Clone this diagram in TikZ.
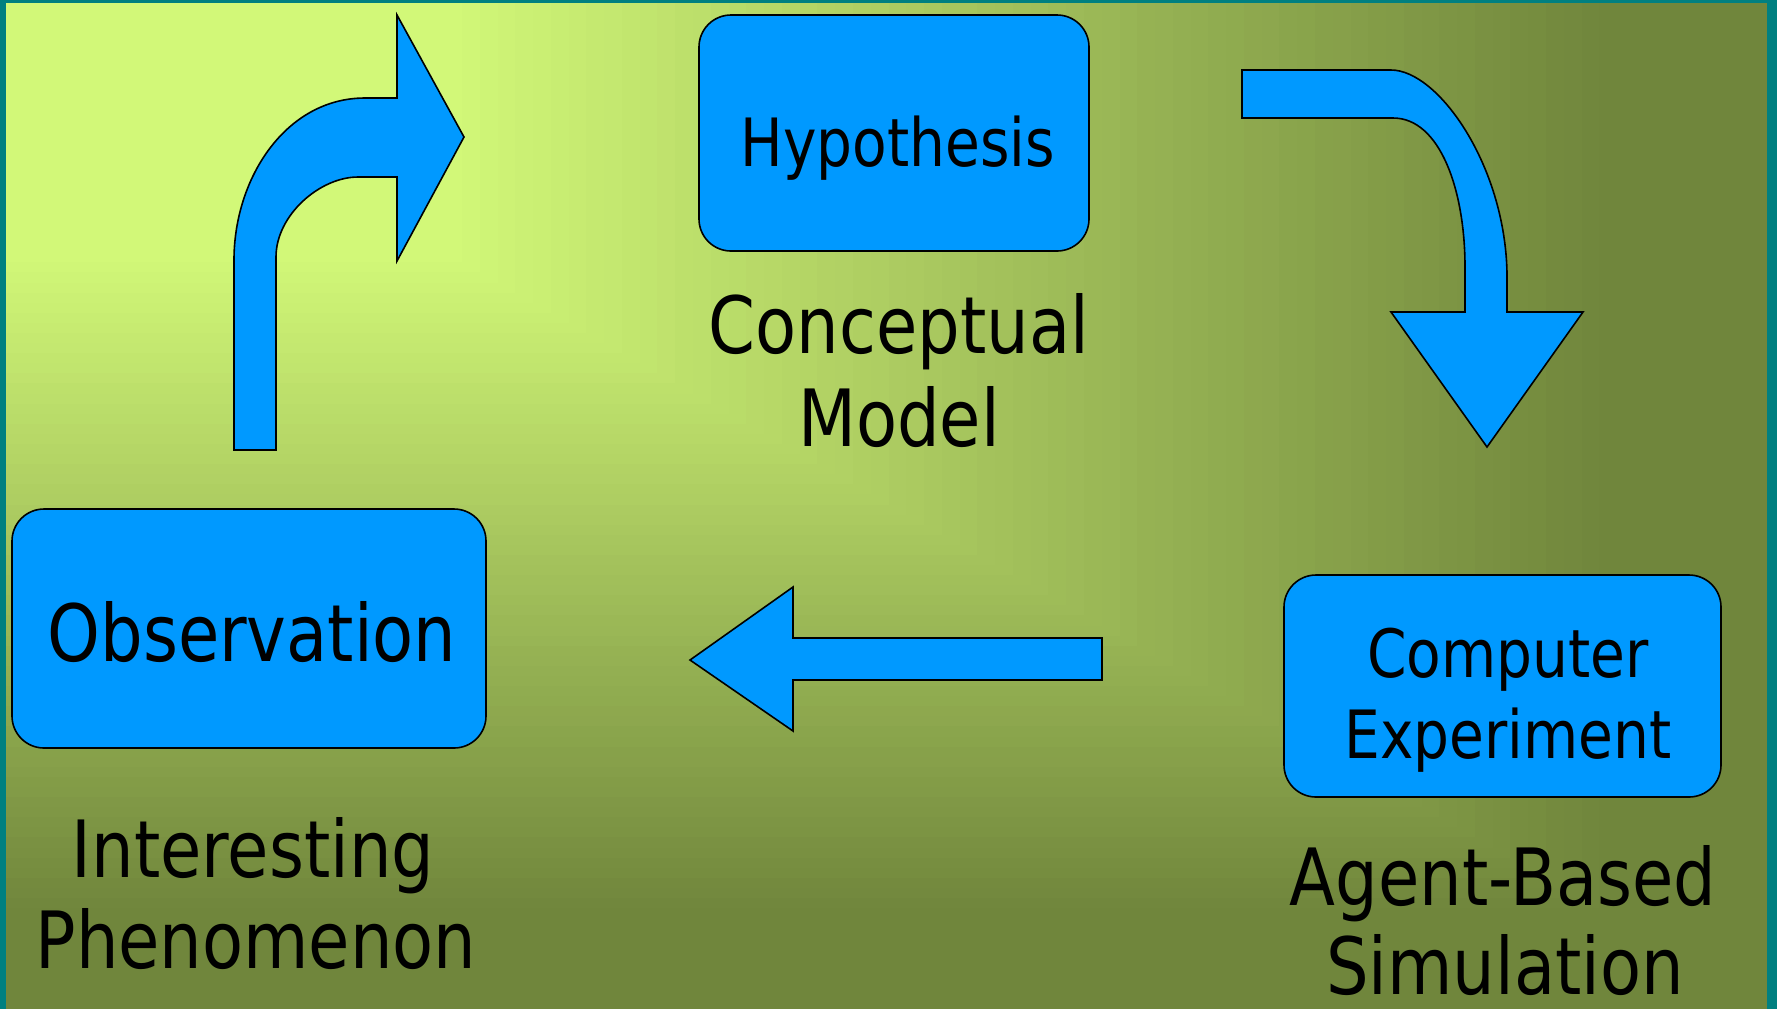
\documentclass[tikz,border=0pt]{standalone}
\usepackage{fontspec}
\setmainfont{DejaVu Sans}[FakeStretch=0.85]
\definecolor{bglight}{RGB}{210,248,120}
\definecolor{bgdark}{RGB}{112,134,60}
\definecolor{tealframe}{RGB}{0,128,128}
\definecolor{boxblue}{RGB}{0,153,255}
\begin{document}
\begin{tikzpicture}[x=0.5pt,y=-0.5pt,
  box/.style={draw=black, line width=0.8pt, fill=boxblue, rounded corners=16pt, inner sep=0pt},
  blockarrow/.style={draw=black, line width=0.8pt, fill=boxblue, line join=miter},
  lbl/.style={anchor=base, inner sep=0pt, text=black},
  big/.style={lbl, font=\fontsize{39.5}{46}\selectfont},
  mid/.style={lbl, font=\fontsize{33.3}{40}\selectfont}]
\useasboundingbox (0,0) rectangle (1777,1009);
% background: rectangular gradient from the top-left corner
\foreach \i in {100,99,...,1}{
  \pgfmathsetmacro\gt{\i/100}
  \pgfmathtruncatemacro\mix{100*(1-min(1,max(0,(\gt-0.26)/0.65)))}
  \fill[bglight!\mix!bgdark] (0,0) rectangle (\gt*1777,\gt*1009);
}
% frame
\fill[tealframe] (0,0) rectangle (6,1009);
\fill[tealframe] (0,0) rectangle (1777,3);
\fill[tealframe] (1767,0) rectangle (1777,1009);

% boxes
\node[box, minimum width=195pt, minimum height=118pt] (hyp) at (894,133) {};
\node[box, minimum width=237pt, minimum height=119.5pt] (obs) at (249,628.5) {};
\node[box, minimum width=218.5pt, minimum height=111pt] (comp) at (1502.5,686) {};

% texts
\node[mid] (hyptxt) at (898,166) {Hypothesis};
\node[big] (conc1) at (899,353) {Conceptual};
\node[big] (conc2) at (899,446) {Model};
\node[big] (obstxt) at (252,661) {Observation};
\node[big] (int1) at (253,877) {Interesting};
\node[big] (int2) at (256,968) {Phenomenon};
\node[mid] (comp1) at (1508,677) {Computer};
\node[mid] (comp2) at (1508,758) {Experiment};
\node[big] (abs1) at (1503,905) {Agent-Based};
\node[big] (abs2) at (1505,994) {Simulation};

% block arrows
\draw[blockarrow] (234,450) -- (234,260) .. controls (234,178) and (286,98) .. (365,98)
  -- (397,98) -- (397,15) -- (464,137) -- (397,261) -- (397,177) -- (358,177)
  .. controls (320,177) and (276,215) .. (276,257) -- (276,450) -- cycle;
\draw[blockarrow] (1242,70) -- (1391,70) .. controls (1438,70) and (1505,165) .. (1507,273)
  -- (1507,312) -- (1583,312) -- (1487,447) -- (1391,312) -- (1465,312) -- (1465,267)
  .. controls (1465,190) and (1440,118) .. (1393,118) -- (1242,118) -- cycle;
\draw[blockarrow] (1102,638) -- (793,638) -- (793,587) -- (690,660) -- (793,731)
  -- (793,680) -- (1102,680) -- cycle;
\end{tikzpicture}
\end{document}
